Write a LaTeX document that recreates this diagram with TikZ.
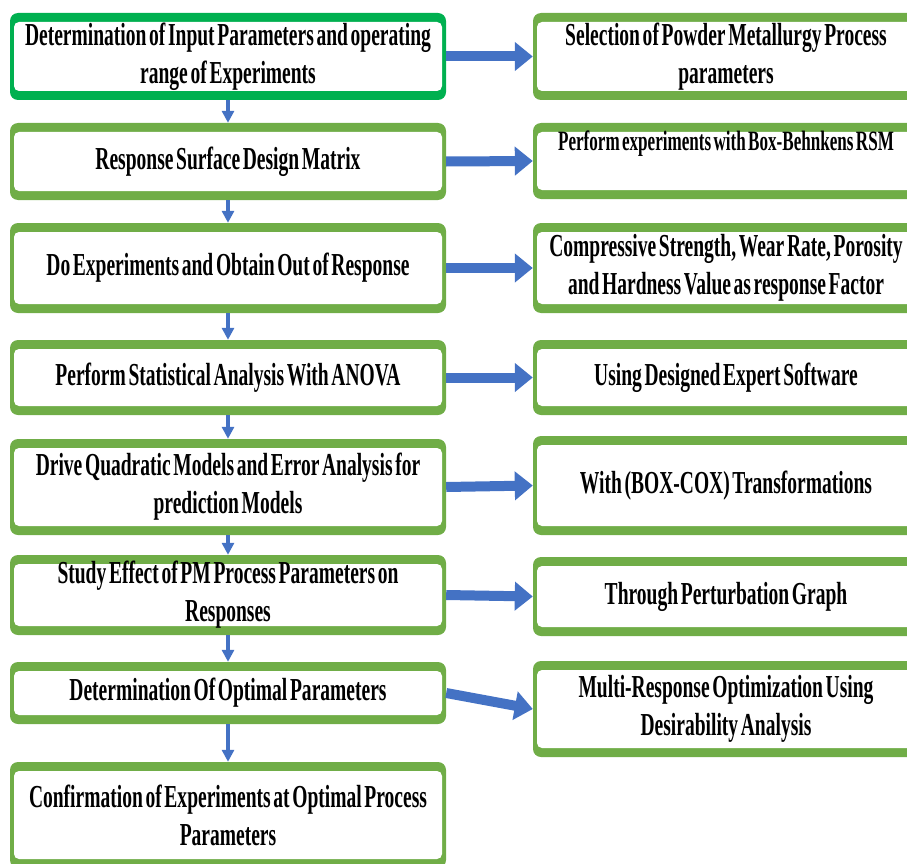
\documentclass[tikz,border=0pt]{standalone}
\usepackage{fontspec}
\usetikzlibrary{arrows.meta}
\newfontfamily\condserif[FakeStretch=0.61, WordSpace=0.55]{Liberation Serif}
\definecolor{stagegreen}{HTML}{70AD47}
\definecolor{startgreen}{HTML}{00B050}
\definecolor{flowblue}{HTML}{4472C4}
\tikzset{
    stage/.style = {rectangle, rounded corners=8pt, fill=stagegreen, inner sep=0pt,
        minimum height=#1, align=center,
        font=\condserif\bfseries\fontsize{32}{38}\selectfont,
        path picture={\fill[white, rounded corners=5pt]
            ([xshift=4pt,yshift=9pt]path picture bounding box.south west) rectangle
            ([xshift=-4pt,yshift=-9pt]path picture bounding box.north east);}},
    left stage/.style = {stage=#1, minimum width=436pt},
    right stage/.style = {stage=#1, minimum width=386pt},
    next/.style = {draw=flowblue, line width=4pt, -{Triangle[length=12pt,width=12pt]}},
    feeds/.style = {draw=flowblue, line width=10pt, -{Triangle[length=18pt,width=28pt]}}
}

\begin{document}
\begin{tikzpicture}[x = 1pt, y = -1pt]
\clip (0,0) rectangle (907,864);

% left column
\node[left stage=87pt, fill=startgreen] (L1) at (228,56.5)
    {Determination of Input Parameters and operating\\ range of Experiments};
\node[left stage=77pt] (L2) at (228,161.5) {Response Surface Design Matrix};
\node[left stage=90pt] (L3) at (228,268) {Do Experiments and Obtain Out of Response};
\node[left stage=75pt] (L4) at (228,377.5) {Perform Statistical Analysis With ANOVA};
\node[left stage=96pt] (L5) at (228,487)
    {Drive Quadratic Models and Error Analysis for\\ prediction Models};
\node[left stage=80pt] (L6) at (228,595)
    {Study Effect of PM Process Parameters on\\ Responses};
\node[left stage=62pt] (L7) at (228,693) {Determination Of Optimal Parameters};
\node[left stage=106pt] (L8) at (228,815)
    {Confirmation of Experiments at Optimal Process\\ Parameters};

% right column
\node[right stage=87pt] (R1) at (726,56.5)
    {Selection of Powder Metallurgy Process\\ parameters};
\node[right stage=76pt, font=\condserif\bfseries\fontsize{28}{32}\selectfont] (R2) at (726,161)
    {Perform experiments with Box-Behnkens RSM\\ \strut};
\node[right stage=90pt] (R3) at (726,268)
    {Compressive Strength, Wear Rate, Porosity\\ and Hardness Value as response Factor};
\node[right stage=75pt] (R4) at (726,377.5) {Using Designed Expert Software};
\node[right stage=99pt] (R5) at (726,485.5) {With (BOX-COX) Transformations};
\node[right stage=79pt] (R6) at (726,596.5) {Through Perturbation Graph};
\node[right stage=96pt] (R7) at (726,709)
    {Multi-Response Optimization Using\\ Desirability Analysis};

% arrows
\foreach \a/\b in {L1/L2, L2/L3, L3/L4, L4/L5, L5/L6, L6/L7, L7/L8}
    \draw[next] (\a.south) -- (\b.north);
\foreach \i in {1,...,7}
    \draw[feeds] (L\i.east) -- (R\i.west);
\end{tikzpicture}
\end{document}
